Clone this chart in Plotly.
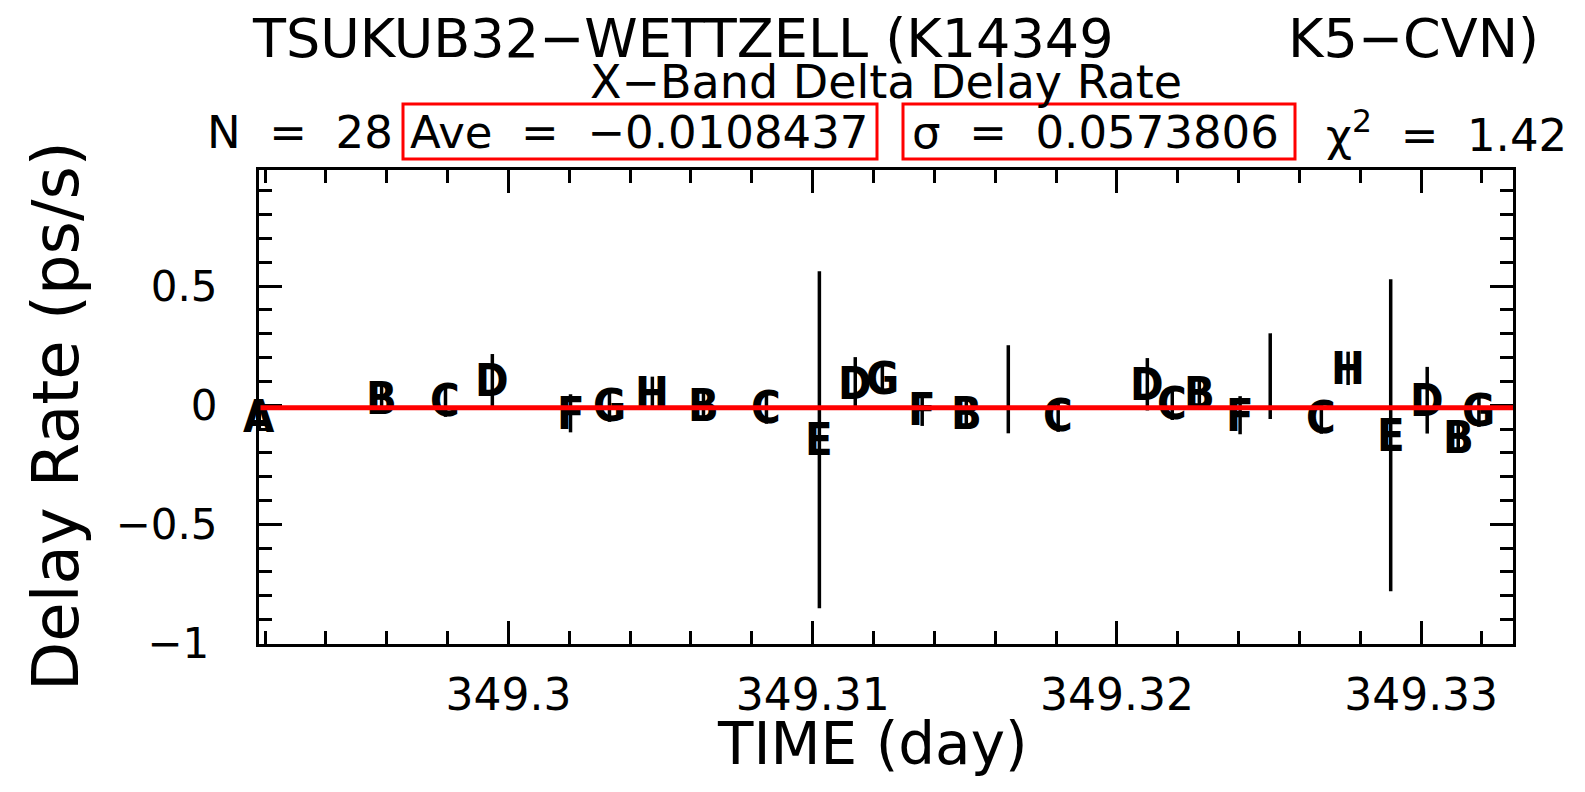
import plotly.graph_objects as go

# ---------------- data ----------------
times = [349.29181, 349.29583, 349.29793, 349.29947, 349.30204, 349.30332, 349.30473,
         349.30641, 349.30848, 349.31022, 349.31140, 349.31229, 349.31360, 349.31505,
         349.31643, 349.31807, 349.32100, 349.32182, 349.32271, 349.32405, 349.32504,
         349.32672, 349.32760, 349.32900, 349.33020, 349.33122, 349.33190]
rates = [-0.046, 0.029, 0.021, 0.105, -0.034, 0.000, 0.050,
         0.000, -0.008, -0.145, 0.092, 0.113, -0.017, -0.034,
         0.067, -0.042, 0.088, 0.008, 0.050, -0.042, 0.122,
         -0.050, 0.155, -0.126, 0.021, -0.134, -0.021]
errors = [0.06, 0.06, 0.07, 0.11, 0.08, 0.07, 0.07,
          0.06, 0.07, 0.708, 0.11, 0.06, 0.07, 0.06,
          0.185, 0.07, 0.11, 0.07, 0.06, 0.08, 0.18,
          0.07, 0.07, 0.655, 0.14, 0.06, 0.07]
labels = ["A", "B", "C", "D", "F", "G", "H",
          "B", "C", "E", "D", "G", "F", "B",
          "", "C", "D", "C", "B", "F", "",
          "C", "H", "E", "D", "B", "G"]
average = -0.0108437

x_tick_vals = [349.30, 349.31, 349.32, 349.33]
x_tick_labels = ["349.3", "349.31", "349.32", "349.33"]
y_tick_vals = [-1, -0.5, 0, 0.5]
y_tick_labels = ["\u22121\u2009", "\u22120.5", "0", "0.5"]

x_range = [349.29180, 349.33302]
y_range = [-1.003, 0.988]

title_main_left = "TSUKUB32\u2212WETTZELL (K14349"
title_main_right = "K5\u2212CVN)"
title_sub = "X\u2212Band Delta Delay Rate"
stat_n = "N = 28"
stat_ave = "Ave = \u22120.0108437"
stat_sigma = "\u03c3 = 0.0573806"
stat_chi = "\u03c7<sup>2</sup> = 1.42"
x_title = "TIME (day)"
y_title = "Delay Rate (ps/s)"

# ---------------- layout geometry (pixels) ----------------
W, H = 1585, 792
PL, PR, PT, PB = 259, 1513, 170, 644
FONT = "DejaVu Sans"
LETTER_FONT = "DejaVu Sans Condensed, Roboto Condensed, Roboto, DejaVu Sans"


def px(x):
    return (x - PL) / (PR - PL)


def py(y):
    return (PB - y) / (PB - PT)


def wide(s, n=2):
    return s.replace(" ", "\u00a0" * n)


fig = go.Figure()

# error bars (vertical lines through each point)
fig.add_trace(go.Scatter(
    x=times, y=rates, mode="markers",
    marker=dict(size=1, color="rgba(0,0,0,0)"),
    error_y=dict(type="data", array=errors, visible=True,
                 thickness=3.5, width=0, color="black"),
    cliponaxis=False, showlegend=False, hoverinfo="skip"))

ann = []

# point letters, placed in data coordinates
for t, r, lab in zip(times, rates, labels):
    if lab:
        ann.append(dict(text=lab, x=t, y=r, xref="x", yref="y",
                        xanchor="center", yanchor="middle", showarrow=False,
                        font=dict(family=LETTER_FONT, size=45, color="black",
                                  weight="bold")))

# average line, drawn on top of the letters
ann.append(dict(text="", x=x_range[1], y=average, xref="x", yref="y",
                ax=x_range[0], ay=average, axref="x", ayref="y",
                showarrow=True, arrowhead=0, arrowwidth=5, arrowcolor="red",
                standoff=0, startstandoff=0))


def add_text(text, x, y, size, xanchor="left", angle=0):
    ann.append(dict(text=text, x=px(x), y=py(y), xref="paper", yref="paper",
                    xanchor=xanchor, yanchor="middle", showarrow=False,
                    textangle=angle,
                    font=dict(family=FONT, size=size, color="black")))


add_text(title_main_left, 250, 38, 54)
add_text(title_main_right, 1541, 38, 54, xanchor="right")
add_text(title_sub, 886, 82, 46, xanchor="center")
add_text(wide(stat_n), 205, 133, 45)
add_text(wide(stat_ave), 408, 133, 45)
add_text(wide(stat_sigma), 910, 133, 45)
add_text(wide(stat_chi), 1324, 133, 45)
add_text(x_title, 872, 744, 58, xanchor="center")
add_text(y_title, 56, 416, 64, xanchor="center", angle=-90)

shapes = [
    dict(type="rect", xref="paper", yref="paper", x0=px(403), x1=px(877),
         y0=py(159), y1=py(104), line=dict(color="red", width=3)),
    dict(type="rect", xref="paper", yref="paper", x0=px(903), x1=px(1295),
         y0=py(159), y1=py(104), line=dict(color="red", width=3)),
]

axis_common = dict(showline=True, linewidth=3, linecolor="black", mirror="ticks",
                   ticks="inside", tickwidth=3, tickcolor="black", ticklen=23,
                   showgrid=False, zeroline=False)

fig.update_layout(
    width=W, height=H, autosize=False,
    margin=dict(l=PL, r=W - PR, t=PT, b=H - PB, autoexpand=False),
    paper_bgcolor="white", plot_bgcolor="white",
    annotations=ann, shapes=shapes,
    xaxis=dict(range=x_range, tickmode="array", tickvals=x_tick_vals,
               ticktext=x_tick_labels, ticklabelstandoff=10,
               tickfont=dict(family=FONT, size=44, color="black"),
               minor=dict(tickmode="linear", tick0=349.3, dtick=0.002,
                          ticks="inside", ticklen=13, tickwidth=3,
                          tickcolor="black", showgrid=False),
               **axis_common),
    yaxis=dict(range=y_range, tickmode="array", tickvals=y_tick_vals,
               ticktext=y_tick_labels, ticklabelstandoff=30,
               tickfont=dict(family=FONT, size=42, color="black"),
               minor=dict(tickmode="linear", tick0=0, dtick=0.1,
                          ticks="inside", ticklen=13, tickwidth=3,
                          tickcolor="black", showgrid=False),
               **axis_common),
)

fig.write_html("out.html")
